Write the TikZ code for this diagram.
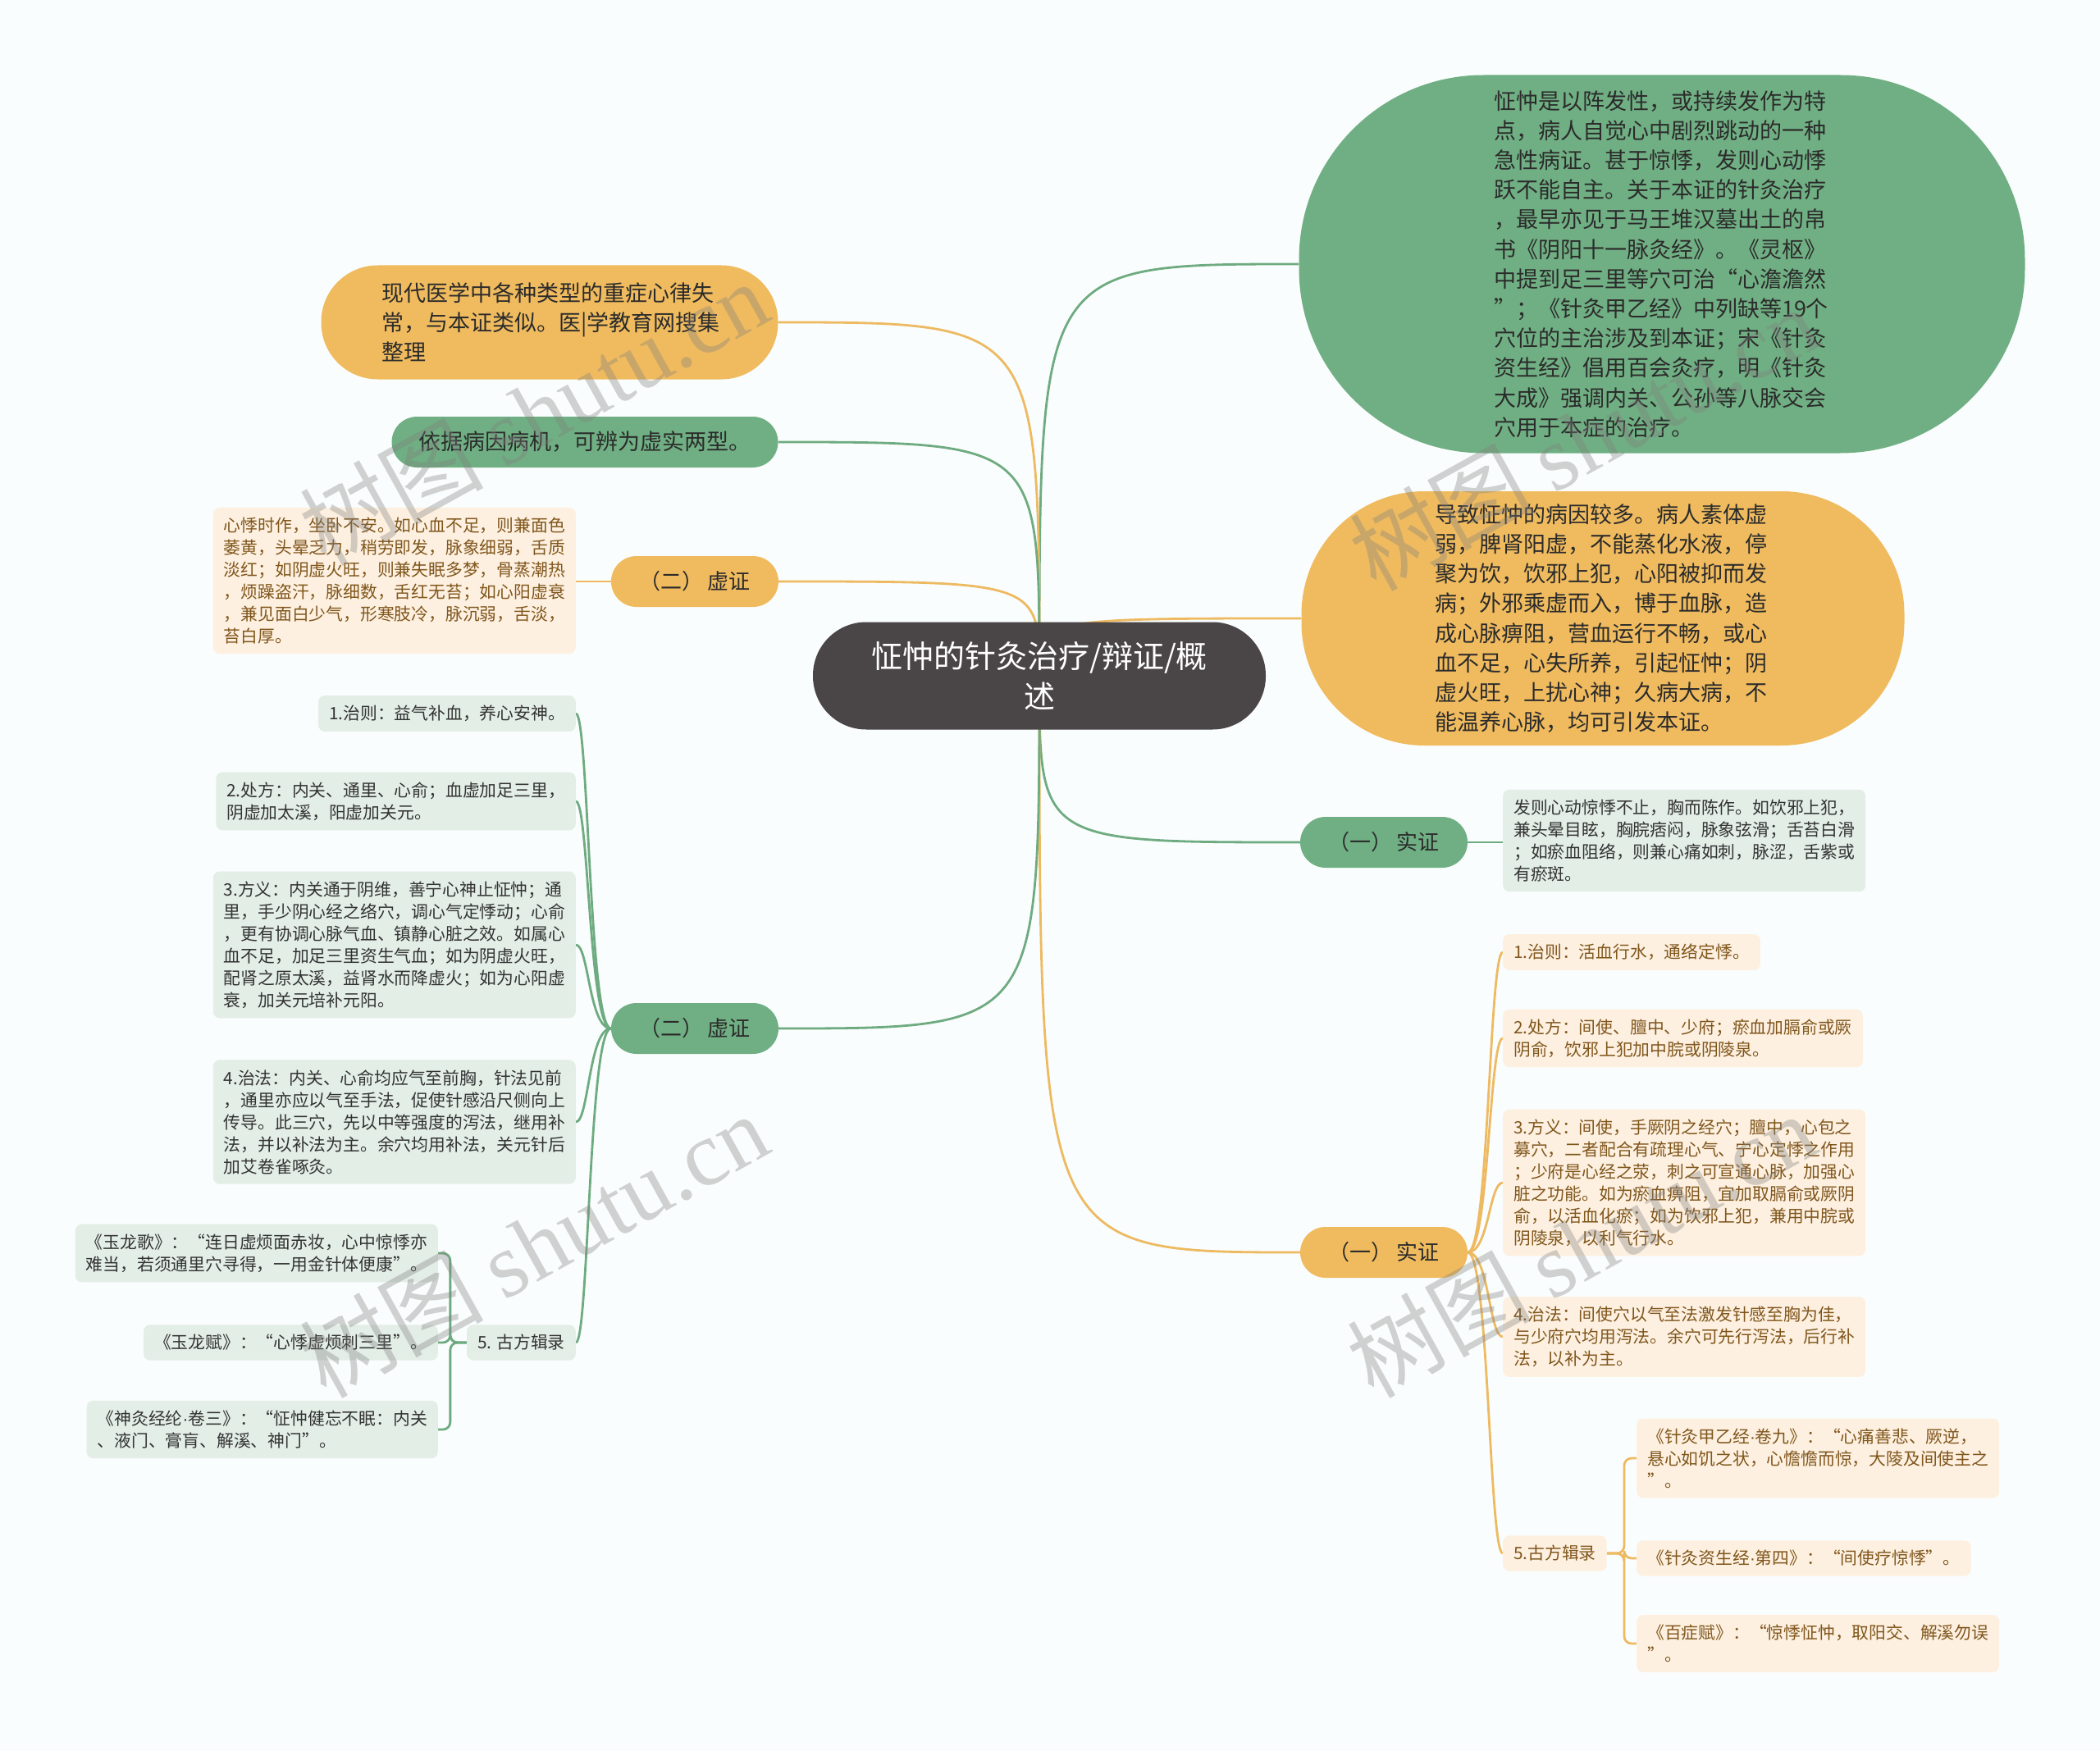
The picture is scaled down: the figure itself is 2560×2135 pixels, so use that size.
\documentclass[tikz,border=0pt]{standalone}
\usepackage{fontspec}
\setmainfont{Noto Sans CJK SC}
\newfontfamily\wmfont{Liberation Serif}
\newfontfamily\latinfont{Liberation Sans}
\newcommand\middot{{\latinfont ·}}
\usetikzlibrary{backgrounds}
\definecolor{bgc}{HTML}{FAFDFD}
\definecolor{rootc}{HTML}{4A4546}
\definecolor{gfill}{HTML}{70AF83}
\definecolor{ofill}{HTML}{F0BB5F}
\definecolor{gdet}{HTML}{E3EEE6}
\definecolor{odet}{HTML}{FDF0E0}
\definecolor{glinec}{HTML}{6EAB80}
\definecolor{olinec}{HTML}{EDBA62}
\definecolor{txt}{HTML}{2B2B2B}
\definecolor{otxt}{HTML}{80561C}
\definecolor{gtxt}{HTML}{333333}
\tikzset{
  rootn/.style={fill=rootc, text=white, rounded corners=65pt, minimum width=552pt, minimum height=131pt, align=center, font=\fontsize{38}{49}\selectfont, inner sep=0pt},
  pill/.style={text=txt, inner sep=0pt, align=left},
  bigtext/.style={font=\fontsize{27}{36.2}\selectfont},
  smallpill/.style={minimum width=204pt, minimum height=62pt, rounded corners=31pt, font=\fontsize{26}{30}\selectfont},
  det/.style={rounded corners=8pt, inner xsep=13pt, inner ysep=12pt, align=left, font=\fontsize{20.8}{27}\selectfont},
  gdetn/.style={det, fill=gdet, text=gtxt},
  odetn/.style={det, fill=odet, text=otxt},
  gcon/.style={draw=glinec, line width=2.8pt},
  ocon/.style={draw=olinec, line width=2.8pt},
  wm/.style={text=gray, opacity=0.35, rotate=29, font=\fontsize{112}{120}\selectfont}
}
\begin{document}
\begin{tikzpicture}[x=1pt, y=-1pt]
\useasboundingbox (0,0) rectangle (2560,2135);

% root
\node[rootn] (root) at (1267,824) {怔忡的针灸治疗/辩证/概\\述};

% right side
\node[pill, bigtext, fill=gfill, text width=410pt, minimum width=885pt, minimum height=461pt, rounded corners=225pt] (r1) at (2026,322) {怔忡是以阵发性，或持续发作为特\\点，病人自觉心中剧烈跳动的一种\\急性病证。甚于惊悸，发则心动悸\\跃不能自主。关于本证的针灸治疗\\，最早亦见于马王堆汉墓出土的帛\\书《阴阳十一脉灸经》。《灵枢》\\中提到足三里等穴可治“心澹澹然\\”；《针灸甲乙经》中列缺等19个\\穴位的主治涉及到本证；宋《针灸\\资生经》倡用百会灸疗，明《针灸\\大成》强调内关、公孙等八脉交会\\穴用于本症的治疗。};

\node[pill, bigtext, fill=ofill, text width=410pt, minimum width=735pt, minimum height=310pt, rounded corners=150pt] (r2) at (1954,754) {导致怔忡的病因较多。病人素体虚\\弱，脾肾阳虚，不能蒸化水液，停\\聚为饮，饮邪上犯，心阳被抑而发\\病；外邪乘虚而入，博于血脉，造\\成心脉痹阻，营血运行不畅，或心\\血不足，心失所养，引起怔忡；阴\\虚火旺，上扰心神；久病大病，不\\能温养心脉，均可引发本证。};

\node[pill, smallpill, fill=gfill] (r3) at (1687,1027) {（一） 实证};
\node[gdetn, anchor=west] (r3d) at (1832,1025) {发则心动惊悸不止，胸而陈作。如饮邪上犯，\\兼头晕目眩，胸脘痞闷，脉象弦滑；舌苔白滑\\；如瘀血阻络，则兼心痛如刺，脉涩，舌紫或\\有瘀斑。};

\node[pill, smallpill, fill=ofill] (r4) at (1687,1527) {（一） 实证};
\node[odetn, anchor=west] (r4a) at (1832,1161) {1.治则：活血行水，通络定悸。};
\node[odetn, anchor=west] (r4b) at (1832,1266) {2.处方：间使、膻中、少府；瘀血加膈俞或厥\\阴俞，饮邪上犯加中脘或阴陵泉。};
\node[odetn, anchor=west] (r4c) at (1832,1442) {3.方义：间使，手厥阴之经穴；膻中，心包之\\募穴，二者配合有疏理心气、宁心定悸之作用\\；少府是心经之荥，刺之可宣通心脉，加强心\\脏之功能。如为瘀血痹阻，宜加取膈俞或厥阴\\俞，以活血化瘀；如为饮邪上犯，兼用中脘或\\阴陵泉，以利气行水。};
\node[odetn, anchor=west] (r4d) at (1832,1630) {4.治法：间使穴以气至法激发针感至胸为佳，\\与少府穴均用泻法。余穴可先行泻法，后行补\\法，以补为主。};
\node[odetn, anchor=west] (r4e) at (1832,1894) {5.古方辑录};
\node[odetn, anchor=west] (r4e1) at (1995,1778) {《针灸甲乙经\middot 卷九》：“心痛善悲、厥逆，\\悬心如饥之状，心憺憺而惊，大陵及间使主之\\”。};
\node[odetn, anchor=west] (r4e2) at (1995,1900) {《针灸资生经\middot 第四》：“间使疗惊悸”。};
\node[odetn, anchor=west] (r4e3) at (1995,2004) {《百症赋》：“惊悸怔忡，取阳交、解溪勿误\\”。};

% left side
\node[pill, bigtext, fill=ofill, text width=410pt, minimum width=557pt, minimum height=139pt, rounded corners=69pt] (l1) at (670,393) {现代医学中各种类型的重症心律失\\常，与本证类似。医|学教育网搜集\\整理};
\node[pill, bigtext, fill=gfill, minimum width=471pt, minimum height=62pt, rounded corners=31pt] (l2) at (713,539) {依据病因病机，可辨为虚实两型。};
\node[pill, smallpill, fill=ofill] (l3) at (847,709) {（二） 虚证};
\node[odetn, anchor=east] (l3d) at (702,708) {心悸时作，坐卧不安。如心血不足，则兼面色\\萎黄，头晕乏力，稍劳即发，脉象细弱，舌质\\淡红；如阴虚火旺，则兼失眠多梦，骨蒸潮热\\，烦躁盗汗，脉细数，舌红无苔；如心阳虚衰\\，兼见面白少气，形寒肢冷，脉沉弱，舌淡，\\苔白厚。};

\node[pill, smallpill, fill=gfill] (l4) at (847,1254) {（二） 虚证};
\node[gdetn, anchor=east] (l4a) at (702,870) {1.治则：益气补血，养心安神。};
\node[gdetn, anchor=east] (l4b) at (702,977) {2.处方：内关、通里、心俞；血虚加足三里，\\阴虚加太溪，阳虚加关元。};
\node[gdetn, anchor=east] (l4c) at (702,1152) {3.方义：内关通于阴维，善宁心神止怔忡；通\\里，手少阴心经之络穴，调心气定悸动；心俞\\，更有协调心脉气血、镇静心脏之效。如属心\\血不足，加足三里资生气血；如为阴虚火旺，\\配肾之原太溪，益肾水而降虚火；如为心阳虚\\衰，加关元培补元阳。};
\node[gdetn, anchor=east] (l4d) at (702,1368) {4.治法：内关、心俞均应气至前胸，针法见前\\，通里亦应以气至手法，促使针感沿尺侧向上\\传导。此三穴，先以中等强度的泻法，继用补\\法，并以补法为主。余穴均用补法，关元针后\\加艾卷雀啄灸。};
\node[gdetn, anchor=east] (l4e) at (702,1637) {5. 古方辑录};
\node[gdetn, anchor=east] (l4e1) at (534,1528) {《玉龙歌》：“连日虚烦面赤妆，心中惊悸亦\\难当，若须通里穴寻得，一用金针体便康”。};
\node[gdetn, anchor=east] (l4e2) at (534,1637) {《玉龙赋》：“心悸虚烦刺三里”。};
\node[gdetn, anchor=east] (l4e3) at (534,1743) {《神灸经纶\middot 卷三》：“怔忡健忘不眠：内关\\、液门、膏肓、解溪、神门”。};

% spine coordinates
\coordinate (r4s) at ([xshift=26pt]r4.east);
\coordinate (r4es) at ([xshift=21pt]r4e.east);
\coordinate (l4s) at ([xshift=-27pt]l4.west);
\coordinate (l4es) at ([xshift=-20pt]l4e.west);

\begin{scope}[on background layer]
  \fill[bgc] (0,0) rectangle (2560,2135);
  % root connectors
  \draw[gcon] (root.center) .. controls (root.center |- r1.west) .. (r1.west);
  \draw[ocon] (root.center) .. controls (root.center |- r2.west) .. (r2.west);
  \draw[gcon] (root.center) .. controls (root.center |- r3.west) .. (r3.west);
  \draw[ocon] (root.center) .. controls (root.center |- r4.west) .. (r4.west);
  \draw[ocon] (root.center) .. controls (root.center |- l1.east) .. (l1.east);
  \draw[gcon] (root.center) .. controls (root.center |- l2.east) .. (l2.east);
  \draw[ocon] (root.center) .. controls (root.center |- l3.east) .. (l3.east);
  \draw[gcon] (root.center) .. controls (root.center |- l4.east) .. (l4.east);
  % detail connectors
  \draw[gcon] (r3.east) -- (r3d.west |- r3.east);
  \draw[ocon] (l3.west) -- (l3d.east |- l3.west);
  \foreach \c in {r4a,r4b,r4c,r4d,r4e}
    \draw[ocon] (r4.east) .. controls (r4s) and (r4s |- \c.west) .. (\c.west);
  \foreach \c in {l4a,l4b,l4c,l4d,l4e}
    \draw[gcon] (l4.west) .. controls (l4s) and (l4s |- \c.east) .. (\c.east);
  \foreach \c in {r4e1,r4e2,r4e3}
    \draw[ocon, rounded corners=9pt] (r4e.east) -| (r4es |- \c.west) -- (\c.west);
  \foreach \c in {l4e1,l4e2,l4e3}
    \draw[gcon, rounded corners=9pt] (l4e.west) -| (l4es |- \c.east) -- (\c.east);
\end{scope}

% watermarks
\node[wm] (wm1) at (650,503) {树图 {\wmfont shutu.cn}};
\node[wm] (wm2) at (650,1518) {树图 {\wmfont shutu.cn}};
\node[wm] (wm3) at (1930,534) {树图 {\wmfont shutu.cn}};
\node[wm] (wm4) at (1927,1518) {树图 {\wmfont shutu.cn}};
\end{tikzpicture}
\end{document}
